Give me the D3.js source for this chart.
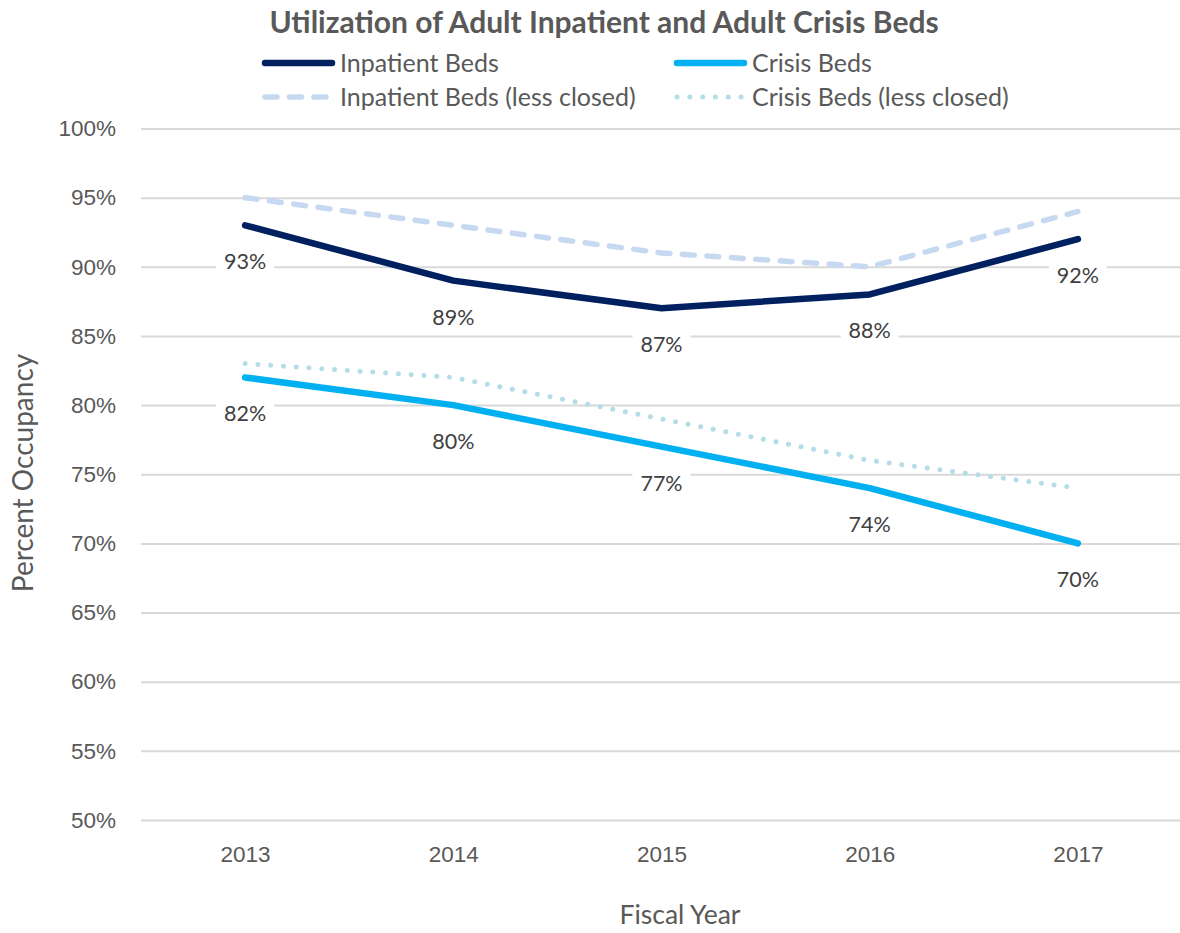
<!DOCTYPE html>
<html>
<head>
<meta charset="utf-8">
<script src="https://cdn.jsdelivr.net/npm/d3@7/dist/d3.min.js"></script>
<style>
  html, body { margin: 0; padding: 0; background: #fff; }
  svg { display: block; font-family: Lato, "Open Sans", sans-serif; }
</style>
</head>
<body>
<svg id="chart" width="1180" height="933"></svg>
<script>
// Fiscal years on the x axis
const years = ["2013", "2014", "2015", "2016", "2017"];
// Occupancy rates, percent
const inpatient = [93, 89, 87, 88, 92];
const crisis = [82, 80, 77, 74, 70];
const inpatientLessClosed = [95, 93, 91, 90, 94];
const crisisLessClosed = [83, 82, 79, 76, 74];
// Y axis ticks
const yTicks = [50, 55, 60, 65, 70, 75, 80, 85, 90, 95, 100];

const series = [
  { name: "Inpatient Beds", values: inpatient, color: "#002060", width: 6.5, dash: null, labels: true },
  { name: "Crisis Beds", values: crisis, color: "#00B0F0", width: 6.5, dash: null, labels: true },
  { name: "Inpatient Beds (less closed)", values: inpatientLessClosed, color: "#C6D9F1", width: 5.5, dash: "12 12.5", labels: false },
  { name: "Crisis Beds (less closed)", values: crisisLessClosed, color: "#B4DDE8", width: 5, dash: "0.1 12.7", labels: false }
];

const svg = d3.select("#chart");
const plot = { left: 141, right: 1182, top: 128.5, bottom: 820 };

const x = d3.scalePoint().domain(years).range([plot.left, plot.right]).padding(0.5);
const y = d3.scaleLinear().domain([50, 100]).range([plot.bottom, plot.top]);

// Gridlines and y tick labels
const yAxis = d3.axisLeft(y).tickValues(yTicks).tickSize(-(plot.right - plot.left)).tickPadding(25)
  .tickFormat(d => d + "%");
const gy = svg.append("g").attr("transform", `translate(${plot.left},0)`).call(yAxis);
gy.select(".domain").remove();
gy.selectAll(".tick line").attr("stroke", "#D9D9D9").attr("stroke-width", 2);
gy.selectAll(".tick text").attr("fill", "#595959").style("font-size", "22.5px");

// X tick labels
const xAxis = d3.axisBottom(x).tickSize(0).tickPadding(0);
const gx = svg.append("g").attr("transform", `translate(0,${plot.bottom})`).call(xAxis);
gx.select(".domain").remove();
gx.selectAll(".tick text").attr("y", 34).attr("dy", "0.35em")
  .attr("fill", "#595959").style("font-size", "22.5px");

// Series lines, lightest drawn first
const line = d3.line().x((d, i) => x(years[i])).y(d => y(d));
const drawOrder = [series[3], series[2], series[1], series[0]];
svg.append("g").selectAll("path").data(drawOrder).join("path")
  .attr("d", s => line(s.values))
  .attr("fill", "none")
  .attr("stroke", s => s.color)
  .attr("stroke-width", s => s.width)
  .attr("stroke-linecap", "round")
  .attr("stroke-linejoin", "round")
  .attr("stroke-dasharray", s => s.dash);

// Value labels below the solid series, on a white backing
const labelData = [];
series.filter(s => s.labels).forEach(s => s.values.forEach((v, i) => labelData.push({ year: years[i], v })));
const lg = svg.append("g").selectAll("g").data(labelData).join("g")
  .attr("transform", d => `translate(${x(d.year)},${y(d.v) + 36.5})`);
lg.append("rect").attr("x", -29).attr("y", -14).attr("width", 58).attr("height", 28).attr("fill", "#fff");
lg.append("text").attr("text-anchor", "middle").attr("dy", "0.35em")
  .attr("fill", "#404040").style("font-size", "21.5px").text(d => d.v + "%");

// Title
svg.append("text").attr("x", 604).attr("y", 33).attr("text-anchor", "middle")
  .attr("fill", "#595959").style("font-size", "30px").style("font-weight", "bold")
  .text("Utilization of Adult Inpatient and Adult Crisis Beds");

// Legend
const legendPos = [
  { sx: 262, y: 63 }, { sx: 674, y: 63 },
  { sx: 262, y: 97 }, { sx: 674, y: 97 }
];
const leg = svg.append("g").selectAll("g").data(series).join("g")
  .attr("transform", (s, i) => `translate(${legendPos[i].sx},${legendPos[i].y})`);
leg.append("line").attr("x1", 3).attr("x2", 70).attr("y1", 0).attr("y2", 0)
  .attr("stroke", s => s.color).attr("stroke-width", s => s.width)
  .attr("stroke-linecap", "round").attr("stroke-dasharray", s => s.dash);
leg.append("text").attr("x", 78).attr("dy", "0.35em").attr("fill", "#595959")
  .style("font-size", "25px").text(s => s.name);

// Axis titles
svg.append("text").attr("transform", "translate(23,473) rotate(-90)").attr("text-anchor", "middle")
  .attr("dy", "0.35em").attr("fill", "#595959").style("font-size", "28px").text("Percent Occupancy");
svg.append("text").attr("x", 680).attr("y", 915).attr("text-anchor", "middle")
  .attr("dy", "0.35em").attr("fill", "#595959").style("font-size", "26.5px").text("Fiscal Year");
</script>
</body>
</html>
